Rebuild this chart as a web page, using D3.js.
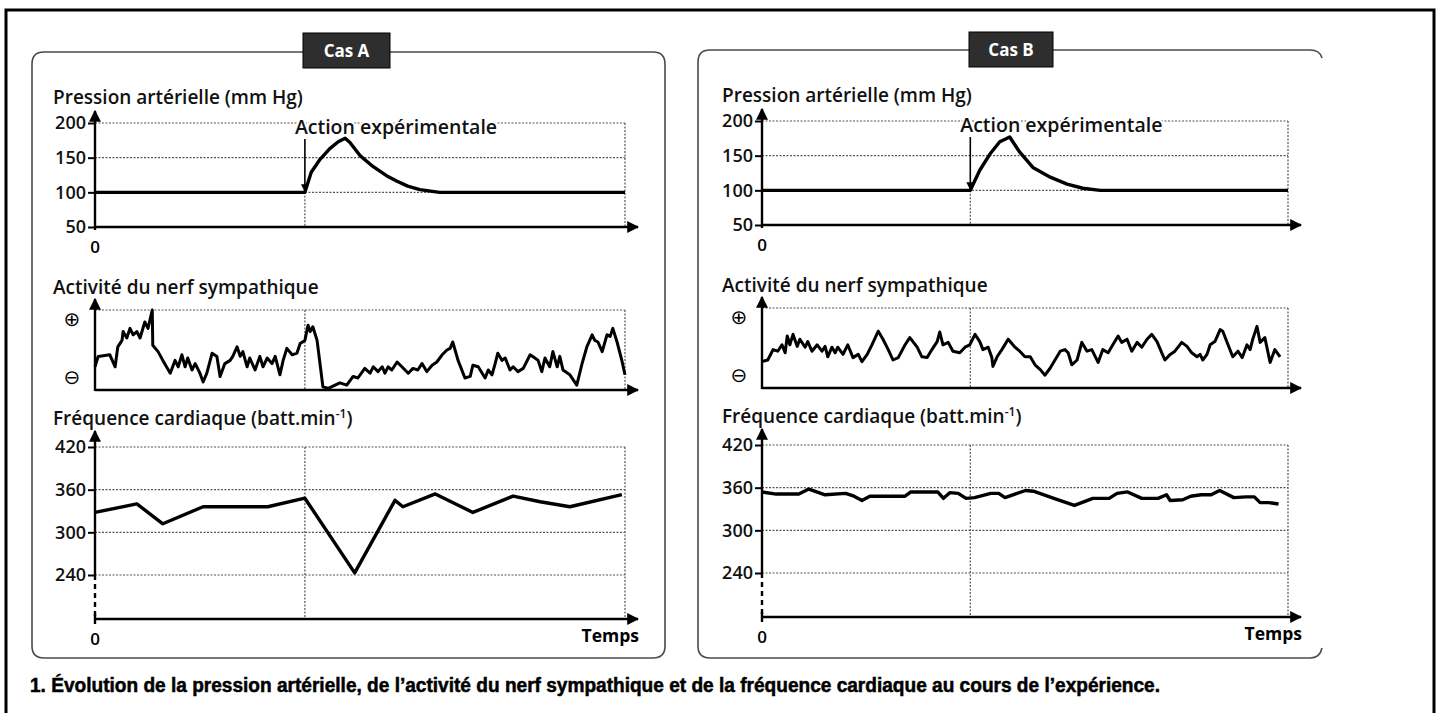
<!DOCTYPE html>
<html>
<head>
<meta charset="utf-8">
<script src="https://cdn.jsdelivr.net/npm/d3@7"></script>
<style>
  body { margin: 0; background: #fff; }
  svg { display: block; }
</style>
</head>
<body>
<div id="chart"></div>
<script>
// Size of the picture
const width = 1440;
const height = 713;

// Time runs from 0 to 100 along every x axis (no units shown)
const actionTime = 39.6;

// Tick labels
const pressureTicks = [50, 100, 150, 200];
const heartTicks = [240, 300, 360, 420];

// Cas A - pression artérielle (mm Hg)
const pressureTimeA = [0, 39.6, 40.8, 42.5, 44.3, 45.9, 47.2, 48.1, 50, 52.5, 55, 57, 59, 61.3, 65, 100];
const pressureA = [100, 100, 129, 148, 163, 173, 178, 172, 153, 137, 124, 116, 109, 104, 100, 100];

// Cas B - pression artérielle (mm Hg)
const pressureTimeB = [0, 39.6, 41.4, 43.3, 45.2, 47.1, 49, 51.5, 54.8, 58, 61, 64.3, 100];
const pressureB = [100, 100, 129, 152, 170, 177, 155, 133, 119, 109, 103, 100, 100];

// Cas A - activité du nerf sympathique (0 = axe, 100 = trait pointillé du haut)
const nerveTimeA = [0, 0.6, 2.8, 3.8, 4.3, 5.1, 5.3, 6, 6.6, 7.2, 7.9, 8.5, 9.4, 10, 10.8, 10.9, 11.9, 12.8, 14.2, 15.1,
  15.7, 16.4, 17, 17.5, 18.3, 18.9, 19.8, 20.4, 21.1, 22.1, 23, 23.6, 24.5, 25.5, 26, 26.8, 27.4, 27.9, 28.7, 29.2,
  30.2, 31.1, 31.7, 32.5, 33.4, 34, 34.9, 35.5, 36.2, 37.2, 38.1, 38.7, 39.6, 40.2, 40.6, 41.1, 41.9, 43, 44, 46.2,
  47.5, 48.7, 49.6, 50.9, 51.9, 52.5, 53.4, 54.2, 54.7, 55.3, 56, 57, 57.9, 59.1, 60, 60.9, 61.7, 62.6, 63.6, 64.5,
  65.5, 66.4, 67, 67.5, 68.5, 69.8, 70.8, 71.3, 72.3, 73.6, 74.2, 74.9, 75.5, 76, 76.8, 77.4, 78.3, 78.9, 79.8, 80.8,
  82.1, 83, 83.6, 84.3, 84.9, 85.8, 86.4, 87.2, 87.7, 88.3, 89.6, 90.9, 91.9, 92.8, 93.8, 94.3, 94.9, 95.7, 96.6, 97.2,
  97.7, 98.5, 99.4, 100];
const nerveA = [29, 42, 44, 29, 54, 62, 73, 65, 77, 69, 73, 65, 85, 77, 100, 56, 48, 37, 21, 37,
  29, 44, 29, 40, 25, 33, 21, 10, 21, 46, 42, 17, 33, 37, 42, 54, 42, 48, 29, 40,
  25, 42, 29, 40, 33, 42, 19, 37, 52, 44, 46, 58, 62, 81, 73, 79, 62, 4, 2, 9,
  6, 17, 15, 27, 21, 29, 23, 29, 21, 29, 25, 35, 29, 21, 27, 25, 33, 23, 31, 35,
  44, 50, 52, 60, 37, 15, 17, 31, 29, 15, 25, 19, 33, 46, 37, 40, 25, 29, 23, 27,
  44, 40, 37, 23, 40, 29, 48, 29, 42, 25, 19, 6, 33, 54, 69, 62, 60, 48, 69, 67,
  77, 60, 37, 19];

// Cas B - activité du nerf sympathique
const nerveTimeB = [0, 1.1, 2.1, 3, 3.8, 4.4, 4.8, 5.3, 5.9, 6.7, 7.2, 8.2, 8.7, 9.5, 10.5, 11.4, 12, 12.5, 13.3, 13.9,
  14.4, 15.4, 16.3, 17.3, 18.3, 19, 20, 20.9, 22.1, 23, 24, 24.9, 25.9, 27.2, 28.1, 29.5, 30.4, 31.4, 32.3, 33.3,
  33.8, 34.4, 35.4, 36.3, 37.6, 38.6, 39.5, 40.5, 41.4, 42, 43, 43.7, 43.9, 44.7, 45.6, 46.8, 48.1, 49, 50, 51,
  51.9, 52.9, 53.8, 54.8, 55.7, 56.7, 57.6, 58.2, 58.9, 59.9, 60.8, 61.8, 62.7, 63.9, 64.8, 65.8, 66.7, 67.7, 68.4, 69.4,
  70.3, 71.3, 72.2, 73.2, 74.1, 75.1, 76, 76.6, 77.6, 78.5, 79.8, 80.8, 81.7, 82.7, 83.3, 83.8, 84.6, 85.2, 86.1, 87.1,
  87.6, 88.6, 89.5, 90.5, 91.3, 92.2, 92.8, 93.3, 94.1, 94.7, 95.6, 96.6, 97.5, 98.5];
const nerveB = [33, 35, 48, 46, 54, 44, 65, 54, 67, 52, 61, 51, 58, 46, 54, 46, 52, 39, 51, 44,
  51, 42, 54, 38, 42, 33, 42, 54, 71, 61, 48, 35, 38, 54, 63, 51, 39, 38, 48, 58,
  70, 54, 57, 46, 44, 51, 54, 67, 58, 48, 51, 38, 27, 39, 48, 61, 51, 46, 39, 39,
  29, 23, 16, 25, 35, 46, 48, 44, 29, 35, 57, 46, 48, 32, 48, 44, 54, 65, 57, 61,
  46, 57, 51, 61, 67, 58, 44, 35, 42, 46, 57, 52, 44, 39, 42, 35, 42, 54, 58, 73,
  71, 54, 39, 46, 38, 54, 48, 61, 77, 57, 63, 32, 48, 39];

// Cas A - fréquence cardiaque (batt.min-1)
const heartTimeA = [0, 7.9, 12.8, 20.4, 32.6, 39.6, 49, 56.6, 58.1, 64.2, 71.3, 78.9, 84, 89.6, 99.4];
const heartA = [328, 340, 312, 336, 336, 348, 243, 345, 336, 354, 328, 351, 343, 336, 353];

// Cas B - fréquence cardiaque (batt.min-1)
const heartTimeB = [0, 2.7, 7, 8.9, 12, 15.9, 17.5, 19, 20.5, 27.2, 28.3, 33.4, 34.5, 35.7, 37.3, 38.8, 40.4, 41.5, 43.5, 45,
  46.2, 48.1, 50.1, 51.6, 55.9, 59.4, 62.9, 66, 67.5, 69.5, 72.2, 75.3, 76.9, 77.6, 80, 81.5, 83.5, 85.4, 87, 89.7,
  92, 93.6, 94.7, 96.3, 98.2];
const heartB = [354, 351, 351, 358, 350, 352, 348, 342, 348, 348, 354, 354, 345, 353, 352, 345, 346, 348, 352, 352,
  346, 351, 356, 355, 344, 335, 345, 345, 352, 354, 345, 345, 350, 342, 343, 348, 350, 350, 356, 346,
  347, 347, 339, 339, 337];

const caption = "1. Évolution de la pression artérielle, de l’activité du nerf sympathique et de la fréquence cardiaque au cours de l’expérience.";

// Layout of the two boxes
const cases = [
  { label: "Cas A", box: [32, 52, 633, 606], badge: [303, 33, 87, 35], x0: 95, x1: 625, titleX: 53, dy: 0, closed: true,
    pTime: pressureTimeA, p: pressureA, nTime: nerveTimeA, n: nerveA, hTime: heartTimeA, h: heartA },
  { label: "Cas B", box: [698, 50, 624, 608], badge: [969, 32, 84, 35], x0: 762, x1: 1288, titleX: 722, dy: -2, closed: false,
    pTime: pressureTimeB, p: pressureB, nTime: nerveTimeB, n: nerveB, hTime: heartTimeB, h: heartB }
];

const titleFont = "'Open Sans', 'Noto Sans', sans-serif";

const svg = d3.select("#chart").append("svg")
  .attr("width", width)
  .attr("height", height);

svg.append("rect").attr("width", width).attr("height", height).attr("fill", "#fff");

svg.append("defs").append("marker")
  .attr("id", "arrow")
  .attr("viewBox", "0 0 10 10")
  .attr("refX", 9).attr("refY", 5)
  .attr("markerWidth", 5).attr("markerHeight", 5)
  .attr("orient", "auto")
  .append("path").attr("d", "M0,0L10,5L0,10z").attr("fill", "#000");

// outer frame
svg.append("path")
  .attr("d", `M6,${height}V10H1434V${height}`)
  .attr("fill", "none").attr("stroke", "#000").attr("stroke-width", 3);

function dotted(g, x1, y1, x2, y2) {
  g.append("line")
    .attr("x1", x1).attr("y1", y1).attr("x2", x2).attr("y2", y2)
    .attr("stroke", "#555").attr("stroke-width", 1.2)
    .attr("stroke-dasharray", "2,1.5");
}

function axisLine(g, x1, y1, x2, y2, arrow) {
  const l = g.append("line")
    .attr("x1", x1).attr("y1", y1).attr("x2", x2).attr("y2", y2)
    .attr("stroke", "#000").attr("stroke-width", 2.4);
  if (arrow) l.attr("marker-end", "url(#arrow)");
  return l;
}

function styleTicks(sel) {
  sel.select(".domain").remove();
  sel.selectAll(".tick line").attr("stroke", "#000").attr("stroke-width", 2);
  sel.selectAll(".tick text")
    .attr("font-family", titleFont).attr("font-weight", 600)
    .attr("font-size", 18).attr("fill", "#111");
}

function title(g, x, y, text) {
  return g.append("text").attr("x", x).attr("y", y)
    .attr("font-family", titleFont).attr("font-weight", 600)
    .attr("font-size", 19).attr("fill", "#111").text(text);
}

function drawCase(c) {
  const g = svg.append("g");
  const [bx, by, bw, bh] = c.box;
  const r = 12;

  // rounded box (case B loses its right edge in the scan)
  const p = d3.path();
  if (c.closed) {
    p.moveTo(bx + r, by);
    p.lineTo(bx + bw - r, by); p.quadraticCurveTo(bx + bw, by, bx + bw, by + r);
    p.lineTo(bx + bw, by + bh - r); p.quadraticCurveTo(bx + bw, by + bh, bx + bw - r, by + bh);
  } else {
    p.moveTo(bx + bw, by + 8); p.quadraticCurveTo(bx + bw - 2, by, bx + bw - r, by);
    p.moveTo(bx + bw, by + bh - 10); p.quadraticCurveTo(bx + bw - 2, by + bh, bx + bw - r, by + bh);
  }
  p.lineTo(bx + r, by + bh); p.quadraticCurveTo(bx, by + bh, bx, by + bh - r);
  p.lineTo(bx, by + r); p.quadraticCurveTo(bx, by, bx + r, by);
  if (!c.closed) p.lineTo(bx + bw - r, by);
  g.append("path").attr("d", p.toString())
    .attr("fill", "none").attr("stroke", "#4a4a4a").attr("stroke-width", 1.6);

  // badge
  const [gx, gy, gw, gh] = c.badge;
  g.append("rect").attr("x", gx).attr("y", gy).attr("width", gw).attr("height", gh)
    .attr("fill", "#2e2e2e").attr("stroke", "#000").attr("stroke-width", 1);
  g.append("text").attr("x", gx + gw / 2).attr("y", gy + gh / 2 + 6)
    .attr("text-anchor", "middle").attr("fill", "#fff")
    .attr("font-family", titleFont).attr("font-weight", 700).attr("font-size", 17)
    .text(c.label);

  const x = d3.scaleLinear().domain([0, 100]).range([c.x0, c.x1]);
  const ax = x(actionTime);
  const dy = c.dy;

  // ---------- Pression artérielle ----------
  const yP = d3.scaleLinear().domain([50, 200]).range([227 + dy, 123 + dy]);
  title(g, c.titleX, 104 + dy, "Pression artérielle (mm Hg)");
  pressureTicks.slice(1).forEach(v => dotted(g, c.x0, yP(v), c.x1, yP(v)));
  dotted(g, c.x1, yP(200), c.x1, yP(50));
  dotted(g, ax, yP(100), ax, yP(50));
  g.append("g").attr("transform", `translate(${c.x0},0)`)
    .call(d3.axisLeft(yP).tickValues(pressureTicks).tickSize(7).tickPadding(2))
    .call(styleTicks);
  axisLine(g, c.x0, yP(50) + 3, c.x0, 111 + dy, true);
  axisLine(g, c.x0, yP(50), c.x1 + 13, yP(50), true);
  g.append("text").attr("x", c.x0).attr("y", 253 + dy).attr("text-anchor", "middle")
    .attr("font-family", titleFont).attr("font-weight", 600).attr("font-size", 17).text("0");

  g.append("path")
    .datum(c.pTime.map((t, i) => [t, c.p[i]]))
    .attr("fill", "none").attr("stroke", "#000").attr("stroke-width", 3.4)
    .attr("stroke-linejoin", "round")
    .attr("d", d3.line().x(d => x(d[0])).y(d => yP(d[1])));

  // Action expérimentale
  g.append("text").attr("x", ax - 10).attr("y", 134 + dy)
    .attr("font-family", titleFont).attr("font-weight", 600).attr("font-size", 19.5)
    .attr("fill", "#111").attr("stroke", "#fff").attr("stroke-width", 4)
    .attr("paint-order", "stroke")
    .text("Action expérimentale");
  g.append("line").attr("x1", ax).attr("y1", 139 + dy).attr("x2", ax).attr("y2", yP(100) - 1)
    .attr("stroke", "#000").attr("stroke-width", 1.6).attr("marker-end", "url(#arrow)");

  // ---------- Activité du nerf sympathique ----------
  const yN = d3.scaleLinear().domain([0, 100]).range([390 + dy, 310 + dy]);
  title(g, c.titleX, 294 + dy, "Activité du nerf sympathique");
  dotted(g, c.x0, yN(100), c.x1, yN(100));
  dotted(g, c.x1, yN(100), c.x1, yN(0));
  dotted(g, ax, yN(100), ax, yN(0));
  axisLine(g, c.x0, yN(0) + 1, c.x0, 299 + dy, true);
  axisLine(g, c.x0, yN(0), c.x1 + 13, yN(0), true);
  g.append("text").attr("x", c.x0 - 23).attr("y", 326 + dy).attr("text-anchor", "middle")
    .attr("font-family", "'DejaVu Sans', sans-serif").attr("font-size", 20).text("⊕");
  g.append("text").attr("x", c.x0 - 23).attr("y", 384 + dy).attr("text-anchor", "middle")
    .attr("font-family", "'DejaVu Sans', sans-serif").attr("font-size", 20).text("⊖");
  g.append("path")
    .datum(c.nTime.map((t, i) => [t, c.n[i]]))
    .attr("fill", "none").attr("stroke", "#000").attr("stroke-width", 3)
    .attr("stroke-linejoin", "round")
    .attr("d", d3.line().x(d => x(d[0])).y(d => yN(d[1])));

  // ---------- Fréquence cardiaque ----------
  const yH = d3.scaleLinear().domain([240, 420]).range([575 + dy, 447 + dy]);
  const baseH = 619 + dy;
  const ht = title(g, c.titleX, 425 + dy, "Fréquence cardiaque (batt.min");
  ht.append("tspan").attr("font-size", 12).attr("dy", -7).text("-1");
  ht.append("tspan").attr("dy", 7).text(")");
  heartTicks.forEach(v => dotted(g, c.x0, yH(v), c.x1, yH(v)));
  dotted(g, c.x1, yH(420), c.x1, baseH);
  dotted(g, ax, yH(420), ax, baseH);
  g.append("g").attr("transform", `translate(${c.x0},0)`)
    .call(d3.axisLeft(yH).tickValues(heartTicks).tickSize(7).tickPadding(2))
    .call(styleTicks);
  axisLine(g, c.x0, yH(240), c.x0, 431 + dy, true);
  axisLine(g, c.x0, yH(240), c.x0, baseH).attr("stroke-dasharray", "5,4");
  axisLine(g, c.x0, baseH - 5, c.x0, baseH + 5);
  axisLine(g, c.x0, baseH, c.x1 + 13, baseH, true);
  g.append("text").attr("x", c.x0).attr("y", 645 + dy).attr("text-anchor", "middle")
    .attr("font-family", titleFont).attr("font-weight", 600).attr("font-size", 17).text("0");
  g.append("text").attr("x", c.x1 + 14).attr("y", 642 + dy).attr("text-anchor", "end")
    .attr("font-family", titleFont).attr("font-weight", 700).attr("font-size", 17.5).text("Temps");
  g.append("path")
    .datum(c.hTime.map((t, i) => [t, c.h[i]]))
    .attr("fill", "none").attr("stroke", "#000").attr("stroke-width", 3.4)
    .attr("stroke-linejoin", "round")
    .attr("d", d3.line().x(d => x(d[0])).y(d => yH(d[1])));
}

cases.forEach(drawCase);

// caption
svg.append("text")
  .attr("x", 30).attr("y", 692)
  .attr("font-family", "'Liberation Sans Narrow', 'Liberation Sans', Arial, sans-serif")
  .attr("font-weight", 700).attr("font-size", 19.5).attr("fill", "#000")
  .attr("stroke", "#000").attr("stroke-width", 0.5)
  .attr("textLength", 1130).attr("lengthAdjust", "spacingAndGlyphs")
  .text(caption);
</script>
</body>
</html>
